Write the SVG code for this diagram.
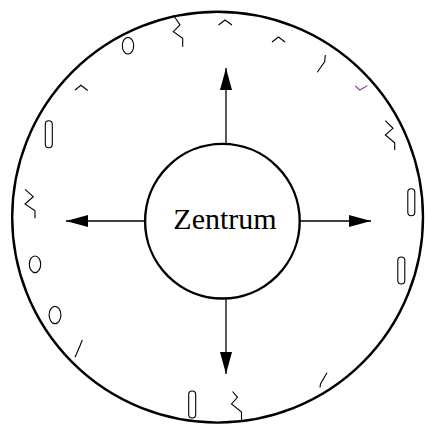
<svg xmlns="http://www.w3.org/2000/svg" width="427" height="429" viewBox="0 0 427 429">
  <style>
    .ring { fill: none; stroke: #000; stroke-width: 2.4; }
    .hub { fill: #fff; stroke: #000; stroke-width: 2.4; }
    .edge { fill: none; stroke: #000; stroke-width: 1.3; }
    .mark { fill: none; stroke: #000; stroke-width: 1.1; stroke-linejoin: miter; }
    .pill { fill: #fff; stroke: #000; stroke-width: 1.1; }
    .purple { stroke: #a03aa6; }
    .label { font-family: "Liberation Serif", "Times New Roman", serif; font-size: 30px; fill: #000; }
  </style>
  <defs>
    <marker id="arrow" markerUnits="userSpaceOnUse" markerWidth="22" markerHeight="12" refX="22" refY="6" orient="auto">
      <path d="M0,0 L22,6 L0,12 Z" fill="#000"/>
    </marker>
  </defs>

  <rect width="427" height="429" fill="#fff"/>

  <g id="outer-ring">
    <circle class="ring" cx="217.6" cy="217.2" r="205.4"/>
  </g>

  <g id="decorations">
    <ellipse class="mark" cx="128" cy="45.7" rx="5.7" ry="8.3"/>
    <ellipse class="mark" cx="35" cy="264.3" rx="5.7" ry="8.3"/>
    <ellipse class="mark" cx="55" cy="315" rx="5.9" ry="8.6"/>
    <rect class="pill" x="45.3" y="120.7" width="7" height="27" rx="3.5"/>
    <rect class="pill" x="407.8" y="188.7" width="7" height="27" rx="3.5"/>
    <rect class="pill" x="397.8" y="257" width="7" height="27" rx="3.5"/>
    <rect class="pill" x="188.7" y="391" width="7" height="27" rx="3.5"/>
    <polyline class="mark" points="173.3,15 180,25 173.3,31.7 182.7,38.3 182.7,46.7"/>
    <polyline class="mark" points="25,189.3 33.3,196.7 25,204 35,210.7 35,218.3"/>
    <polyline class="mark" points="385.3,120.7 393,128.3 385.3,135 394.7,142.7 394.7,150"/>
    <polyline class="mark" points="232.5,391.5 237.5,397.3 231.5,404 241.5,412 241.5,419.7"/>
    <polyline class="mark" points="75,90 81,85.3 87.7,90.5"/>
    <polyline class="mark" points="218.5,25 225,20 232,25"/>
    <polyline class="mark" points="272,42 278.5,37 285,42"/>
    <polyline class="mark" points="325.3,55 324.7,61.5 317.3,72.3"/>
    <polyline class="mark" points="82.3,340 80,345.7 75,357.3"/>
    <polyline class="mark" points="327,372.7 320.5,384 320,387.5"/>
    <polyline class="mark purple" points="355.3,86 359.7,90 367.3,85.7"/>
  </g>

  <g id="connectors">
    <line class="edge" x1="226" y1="144" x2="226" y2="68" marker-end="url(#arrow)"/>
    <line class="edge" x1="226" y1="298" x2="226" y2="374" marker-end="url(#arrow)"/>
    <line class="edge" x1="145" y1="221" x2="66" y2="221" marker-end="url(#arrow)"/>
    <line class="edge" x1="300" y1="221" x2="371" y2="221" marker-end="url(#arrow)"/>
  </g>

  <g id="zentrum">
    <circle class="hub" cx="222.4" cy="221.2" r="77.3"/>
    <text class="label" x="225" y="228.5" text-anchor="middle">Zentrum</text>
  </g>
</svg>
